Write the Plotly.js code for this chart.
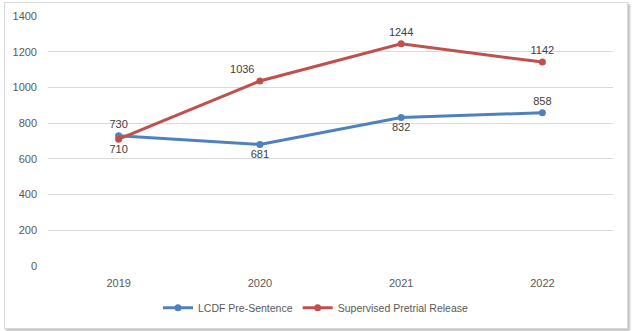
<!DOCTYPE html>
<html><head><meta charset="utf-8">
<script src="https://cdn.plot.ly/plotly-3.0.1.min.js"></script>
<style>
body{margin:0;background:#fff;}
#wrap{position:relative;width:632px;height:331px;}
#chart{width:632px;height:331px;}
#frame{position:absolute;left:4px;top:2px;width:622px;height:325px;border:1px solid #d9d9d9;box-shadow:2px 2px 2px rgba(0,0,0,0.25);pointer-events:none;}
</style></head>
<body><div id="wrap"><div id="chart"></div><div id="frame"></div></div>
<script>
const years = ['2019','2020','2021','2022'];
const lcdf = [730, 681, 832, 858];
const spr = [710, 1036, 1244, 1142];
const lcdfPos = ['top center','bottom center','bottom center','top center'];
const sprPos = ['bottom center','top left','top center','top center'];
const font = {family:'"Liberation Sans", Arial, sans-serif', size:11, color:'#595959'};
const traces = [
 {x:years, y:lcdf, name:'LCDF Pre-Sentence', type:'scatter', mode:'lines+markers+text',
  line:{color:'#4f81bd', width:3}, marker:{color:'#4f81bd', size:7},
  text:lcdf.map(String), textposition:lcdfPos, textfont:{family:font.family,size:11,color:'#404040'}},
 {x:years, y:spr, name:'Supervised Pretrial Release', type:'scatter', mode:'lines+markers+text',
  line:{color:'#c0504d', width:3}, marker:{color:'#c0504d', size:7},
  text:spr.map(String), textposition:sprPos, textfont:{family:font.family,size:11,color:'#404040'}}
];
const layout = {
 width:632, height:331, margin:{l:48,r:19,t:16,b:65, autoexpand:false},
 paper_bgcolor:'#fff', plot_bgcolor:'#fff', font:font, showlegend:true,
 xaxis:{type:'category', range:[-0.5,3.5], showgrid:false, zeroline:false, showline:false, ticks:'', tickfont:font, ticklabelstandoff:9},
 yaxis:{range:[0,1400], dtick:200, showgrid:true, gridcolor:'#d9d9d9', gridwidth:1, zeroline:false, showline:false, ticks:'', tickfont:font, ticklabelstandoff:10},
 legend:{orientation:'h', x:0.5, xanchor:'center', xref:'container', y:0.07, yanchor:'middle', yref:'container', font:{family:font.family,size:10.5,color:'#595959'}, itemwidth:30}
};
Plotly.newPlot('chart', traces, layout, {displayModeBar:false, staticPlot:true});
</script></body></html>
